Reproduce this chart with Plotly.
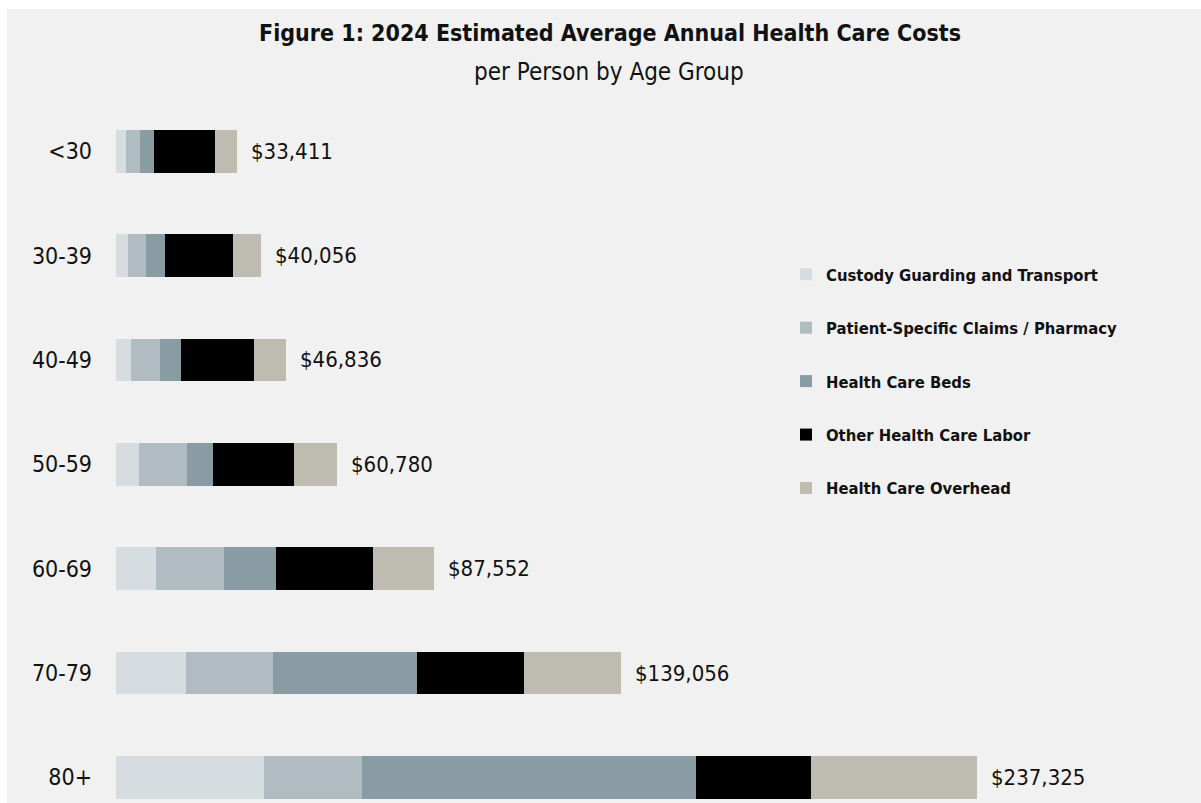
import plotly.graph_objects as go

# ---- data ----
age_groups = ["<30", "30-39", "40-49", "50-59", "60-69", "70-79", "80+"]
custody = [2830, 3290, 4125, 6325, 11090, 19200, 40790]
claims = [3760, 4850, 8060, 13200, 18620, 23970, 27010]
beds = [3760, 5380, 5690, 7240, 14490, 39840, 92050]
labor = [16830, 18770, 20080, 22280, 26570, 29400, 31690]
overhead = [6231, 7766, 8881, 11735, 16782, 26646, 45785]
totals = [33411, 40056, 46836, 60780, 87552, 139056, 237325]

series_names = [
    "Custody Guarding and Transport",
    "Patient-Specific Claims / Pharmacy",
    "Health Care Beds",
    "Other Health Care Labor",
    "Health Care Overhead",
]
series_values = [custody, claims, beds, labor, overhead]
colors = ["#d6dde0", "#b0bcc1", "#899ba3", "#000000", "#bebcb0"]

FONT = "DejaVu Sans Condensed, Liberation Sans Narrow, sans-serif"

W, H = 1201, 803
ML, MR, MT, MB = 116, 0, 99, 0
PW = W - ML - MR
PH = H - MT - MB
DOLLARS_PER_PX = 275.6

fig = go.Figure()
for i, (name, vals, col) in enumerate(zip(series_names, series_values, colors)):
    fig.add_trace(go.Bar(
        y=age_groups, x=vals, name=name, orientation="h",
        marker=dict(color=col, line=dict(width=0)),
        width=0.41, legendgroup=f"g{i}",
        hovertemplate="%{y}: $%{x:,.0f}<extra>" + name + "</extra>",
    ))

annotations = []
for g, t in zip(age_groups, totals):
    annotations.append(dict(
        x=t, y=g, xref="x", yref="y", text=f"${t:,}", showarrow=False,
        xanchor="left", yanchor="middle", xshift=12,
        font=dict(family=FONT, size=22, color="#111111"),
    ))

# subtitle
annotations.append(dict(
    x=(609 - ML) / PW, y=(H - 72) / PH, xref="paper", yref="paper",
    text="per Person by Age Group", showarrow=False,
    xanchor="center", yanchor="middle",
    font=dict(family=FONT, size=24, color="#111111"),
))

fig.update_layout(
    width=W, height=H,
    margin=dict(l=ML, r=MR, t=MT, b=MB, pad=0),
    barmode="stack",
    paper_bgcolor="white",
    plot_bgcolor="rgba(0,0,0,0)",
    title=dict(
        text="<b>Figure 1: 2024 Estimated Average Annual Health Care Costs</b>",
        x=610 / W, xanchor="center", y=1 - 33 / H, yanchor="middle",
        font=dict(family=FONT, size=23, color="#111111"),
    ),
    xaxis=dict(range=[0, PW * DOLLARS_PER_PX], visible=False, fixedrange=True),
    yaxis=dict(
        categoryorder="array", categoryarray=age_groups,
        range=[6.245, -0.5], autorange=False,
        showgrid=False, zeroline=False, showline=False, ticks="",
        ticklabelstandoff=23,
        tickfont=dict(family=FONT, size=23, color="#111111"),
        fixedrange=True,
    ),
    legend=dict(
        x=(786 - ML) / PW, xanchor="left",
        y=(H - 257) / PH, yanchor="top",
        traceorder="grouped", tracegroupgap=29,
        font=dict(family=FONT, size=16.5, color="#111111", weight="bold"),
        bgcolor="rgba(0,0,0,0)", borderwidth=0,
    ),
    showlegend=True,
    annotations=annotations,
    shapes=[dict(
        type="rect", xref="paper", yref="paper",
        x0=(7 - ML) / PW, x1=1.01, y0=-0.01, y1=(H - 9) / PH,
        fillcolor="#f1f1f1", line=dict(width=0), layer="below",
    )],
)

fig.write_html("out.html")
